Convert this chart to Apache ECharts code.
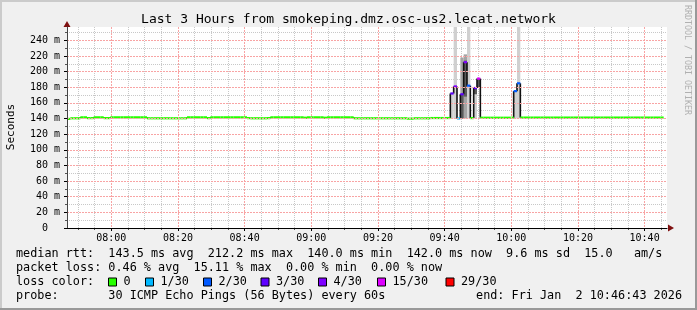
<!DOCTYPE html>
<html><head><meta charset="utf-8">
<script src="https://cdn.jsdelivr.net/npm/echarts@6/dist/echarts.min.js"></script>
<style>html,body{margin:0;padding:0;background:#f0f0f0}#c{width:697px;height:310px}</style>
</head><body><div id="c"></div>
<script>
// ---------- data ----------
const startTime = '07:46:43';           // left edge of the graph
const spanMinutes = 180;                 // 3 hours
const stepMinutes = 1;                   // 60 s per sample
const timeTickLabels = ['08:00','08:20','08:40','09:00','09:20','09:40','10:00','10:20','10:40'];
const yTickLabels = [0,20,40,60,80,100,120,140,160,180,200,220,240];

// median rtt (ms) per minute
const medianMs = [
 139.5,140.3,140.3,140.3,141.5,141.5,140.5,140.5,141.5,141.5,
 141.5,140.5,140.5,141.5,141.5,141.5,141.5,141.5,141.5,141.5,
 141.5,141.5,141.5,141.5,140.3,140.3,140.3,140.3,140.3,140.3,
 140.3,140.3,140.3,140.3,140.3,140.3,141.5,141.5,141.5,141.5,
 141.5,141.5,140.5,141.5,141.5,141.5,141.5,141.5,141.5,141.5,
 141.5,141.5,141.5,141.5,140.5,140.3,140.3,140.3,140.3,140.3,
 140.5,141.5,141.5,141.5,141.5,141.5,141.5,141.5,141.5,141.5,
 141.5,141.0,141.5,141.5,141.5,141.5,141.5,141.0,141.5,141.5,
 141.5,141.5,141.5,141.5,141.5,141.5,140.3,140.3,140.3,140.3,
 140.3,140.3,140.3,140.3,140.3,140.3,140.3,140.3,140.3,140.3,
 140.3,140.3,139.8,139.8,140.3,140.3,140.3,140.3,140.3,140.6,
 140.6,140.6,140.6,140.6,140.6,172,181,140,171,212,
 182,140.5,179,191,141,141,141,141,141,141,
 141,141,141,141,175,185,141.2,141.2,141.2,141.2,
 141.2,141.2,141.2,141.2,141.2,141.2,141.2,141.2,141.2,141.2,
 141.2,141.2,141.2,141.2,141.2,141.2,141.2,141.2,141.2,141.2,
 141.2,141.2,141.2,141.2,141.2,141.2,141.2,141.2,141.2,141.2,
 141.2,141.2,141.2,141.2,141.2,141.2,141.2,141.2,141.2
];
// lost pings out of 30 per minute (only non-zero minutes listed)
const lossMinuteIdx = [115,116,117,118,119,120,122,123,134,135];
const lossMinuteVal = [3,  4,  1,  3,  4,  2,  3,  15, 2,  2];

const lossLabels = ['0','1/30','2/30','3/30','4/30','15/30','29/30'];
const lossThresholds = [0,1,2,3,4,15,29];
const lossColors = ['#26ff00','#00b8ff','#0059ff','#5e00ff','#7e00ff','#dd00ff','#ff0000'];

// smoke (spread of the 30 pings), ms
const smokeOuterIdx  = [115,116,120,122,134,135];
const smokeOuterLow  = [140,140,140,140,140,140];
const smokeOuterHigh = [173,290,290,180,175,290];
const smokeMidIdx    = [118,119];
const smokeMidLow    = [140,140];
const smokeMidHigh   = [218,222];
const smokeInnerIdx  = [118,119,122,123];
const smokeInnerLow  = [140,168,171,179];
const smokeInnerHigh = [171,214,179,191];

const legendLine1 = 'median rtt:  143.5 ms avg  212.2 ms max  140.0 ms min  142.0 ms now  9.6 ms sd  15.0   am/s';
const legendLine2 = 'packet loss: 0.46 % avg  15.11 % max  0.00 % min  0.00 % now';
const legendLine3 = 'loss color:';
const legendLine4 = 'probe:       30 ICMP Echo Pings (56 Bytes) every 60s';
const endText = 'end: Fri Jan  2 10:46:43 2026';
const titleText = 'Last 3 Hours from smokeping.dmz.osc-us2.lecat.network';

// ---------- build ----------
const toMin = s => { const p = s.split(':').map(Number); return p[0]*60 + p[1] + (p[2]||0)/60; };
const START = toMin(startTime);
const END = START + spanMinutes;
const majorX = timeTickLabels.map(toMin);
const minorX = [];
for (let m = Math.ceil(START/5)*5; m <= END; m += 5) if (m % 20 !== 0) minorX.push(m);
const yMinor = [];
for (let v = 10; v <= 250; v += 20) yMinor.push(v);

const lossCount = medianMs.map(() => 0);
lossMinuteIdx.forEach((i,k) => { lossCount[i] = lossMinuteVal[k]; });
function bucket(n){ let b = 0; lossThresholds.forEach((t,k) => { if (n >= t) b = k; }); return b; }

const medianData = medianMs.map((v,i) => [START + i*stepMinutes, START + (i+1)*stepMinutes, v, i ? medianMs[i-1] : v, bucket(lossCount[i])]);
function smokeData(idx, lo, hi){ return idx.map((i,k) => [START + i*stepMinutes, START + (i+1)*stepMinutes, lo[k], hi[k]]); }

function smokeSeries(data, color){
  return {
    type:'custom', clip:true, silent:true, data,
    encode:{x:[0,1], y:[2,3]},
    renderItem(params, api){
      const a = api.coord([api.value(0), api.value(3)]);
      const b = api.coord([api.value(1), api.value(2)]);
      return {type:'rect', shape:{x:a[0], y:a[1], width:b[0]-a[0], height:b[1]-a[1]}, style:{fill:color}};
    }
  };
}

const FONT = '"DejaVu Sans Mono", monospace';
const fmtTime = v => { const h = Math.floor(v/60 + 1e-6), m = Math.round(v - h*60); return String(h).padStart(2,'0') + ':' + String(m).padStart(2,'0'); };

const graphics = [
  {type:'rect', shape:{x:0,y:0,width:697,height:2}, style:{fill:'#cbcbcb'}, silent:true},
  {type:'rect', shape:{x:0,y:0,width:2,height:310}, style:{fill:'#cbcbcb'}, silent:true},
  {type:'rect', shape:{x:0,y:308,width:697,height:2}, style:{fill:'#999999'}, silent:true},
  {type:'rect', shape:{x:695,y:0,width:2,height:310}, style:{fill:'#999999'}, silent:true},
  {type:'text', x:348.5, y:19.5, silent:true, style:{text:titleText, font:'13px '+FONT, fill:'#000', align:'center', verticalAlign:'middle', textAlign:'center', textVerticalAlign:'middle'}},
  {type:'text', x:11, y:127, rotation:Math.PI/2, silent:true, style:{text:'Seconds', font:'11px '+FONT, fill:'#000', align:'center', verticalAlign:'middle', textAlign:'center', textVerticalAlign:'middle'}},
  {type:'text', x:687.5, y:60, rotation:-Math.PI/2, silent:true, style:{text:'RRDTOOL / TOBI OETIKER', font:'8.3px '+FONT, fill:'#b0b0b0', align:'center', verticalAlign:'middle', textAlign:'center', textVerticalAlign:'middle'}},
  {type:'polygon', silent:true, shape:{points:[[63.5,27],[70.5,27],[67,21]]}, style:{fill:'#7f1010'}},
  {type:'polygon', silent:true, shape:{points:[[668,224.5],[668,231.5],[674,228]]}, style:{fill:'#7f1010'}}
];
const legY = [254, 268.2, 282.2, 296];
[legendLine1, legendLine2, legendLine3, legendLine4].forEach((t,k) => {
  graphics.push({type:'text', x:16, y:legY[k], silent:true, style:{text:t, font:'11.8px '+FONT, fill:'#000', align:'left', verticalAlign:'middle', textAlign:'left', textVerticalAlign:'middle'}});
});
graphics.push({type:'text', x:682, y:legY[3], silent:true, style:{text:endText, font:'11.8px '+FONT, fill:'#000', align:'right', verticalAlign:'middle', textAlign:'right', textVerticalAlign:'middle'}});
const boxX = [108.5, 145.5, 203.5, 261, 318.5, 377.5, 446];
lossLabels.forEach((lab,k) => {
  graphics.push({type:'rect', silent:true, shape:{x:boxX[k], y:278, width:8, height:8}, style:{fill:lossColors[k], stroke:'#000', lineWidth:1}});
  graphics.push({type:'text', x:boxX[k]+15, y:legY[2], silent:true, style:{text:lab, font:'11.8px '+FONT, fill:'#000', align:'left', verticalAlign:'middle', textAlign:'left', textVerticalAlign:'middle'}});
});

const RED = '#f8a4a4', GRAY = '#c8c8c8';
const chart = echarts.init(document.getElementById('c'), null, {renderer:'canvas', width:697, height:310});
chart.setOption({
  animation:false,
  backgroundColor:'#f0f0f0',
  grid:{left:67, top:27, width:600, height:201, show:true, backgroundColor:'#ffffff', borderWidth:0, containLabel:false},
  xAxis:[
    {type:'value', min:START, max:END, position:'bottom', z:5,
     axisLine:{show:true, onZero:false, lineStyle:{color:'#000', width:1}},
     axisTick:{show:true, customValues:majorX, length:3, lineStyle:{color:'#000'}},
     axisLabel:{show:true, customValues:majorX, formatter:fmtTime, fontFamily:FONT, fontSize:10, color:'#000', margin:5},
     splitLine:{show:true, lineStyle:{color:RED, width:1, type:[2,1]}}},
    {type:'value', min:START, max:END, position:'bottom', z:1,
     axisLine:{show:false},
     axisTick:{show:true, customValues:minorX, length:2, lineStyle:{color:'#555'}},
     axisLabel:{show:false},
     splitLine:{show:true, lineStyle:{color:GRAY, width:1, type:[1,1]}}}
  ],
  yAxis:[
    {type:'value', min:0, max:257, position:'left', z:5,
     axisLine:{show:true, onZero:false, lineStyle:{color:'#444', width:1}},
     axisTick:{show:true, customValues:yTickLabels, length:3, lineStyle:{color:'#000'}},
     axisLabel:{show:true, customValues:yTickLabels, formatter:v => v === 0 ? '0  ' : v + ' m', fontFamily:FONT, fontSize:10, color:'#000', margin:7},
     splitLine:{show:true, lineStyle:{color:RED, width:1, type:[2,1]}}},
    {type:'value', min:0, max:257, position:'left', z:1,
     axisLine:{show:false},
     axisTick:{show:true, customValues:yMinor, length:2, lineStyle:{color:'#555'}},
     axisLabel:{show:false},
     splitLine:{show:true, lineStyle:{color:GRAY, width:1, type:[1,1]}}}
  ],
  series:[
    smokeSeries(smokeData(smokeOuterIdx, smokeOuterLow, smokeOuterHigh), '#d0d0d0'),
    smokeSeries(smokeData(smokeMidIdx, smokeMidLow, smokeMidHigh), '#a4a4a4'),
    smokeSeries(smokeData(smokeInnerIdx, smokeInnerLow, smokeInnerHigh), '#5a5a5a'),
    { // black step edges of the median
      type:'custom', clip:true, silent:true, data:medianData,
      encode:{x:[0,1], y:[2,3]},
      renderItem(params, api){
        const x0 = api.value(0), v = api.value(2), pv = api.value(3);
        if (pv === v) return null;
        const a = api.coord([x0, v]), p = api.coord([x0, pv]);
        return {type:'line', shape:{x1:a[0], y1:p[1], x2:a[0], y2:a[1]}, style:{stroke:'#111', lineWidth:1.6}};
      }
    },
    { // median coloured by packet loss
      type:'custom', clip:true, silent:true, data:medianData,
      encode:{x:[0,1], y:[2,3]},
      renderItem(params, api){
        const x0 = api.value(0), x1 = api.value(1), v = api.value(2), c = api.value(4);
        const a = api.coord([x0, v]), b = api.coord([x1, v]);
        return {type:'line', shape:{x1:a[0], y1:a[1], x2:b[0], y2:b[1]}, style:{stroke:lossColors[c], lineWidth:2.2}};
      }
    }
  ],
  graphic:{elements:graphics}
});
</script>
</body></html>
